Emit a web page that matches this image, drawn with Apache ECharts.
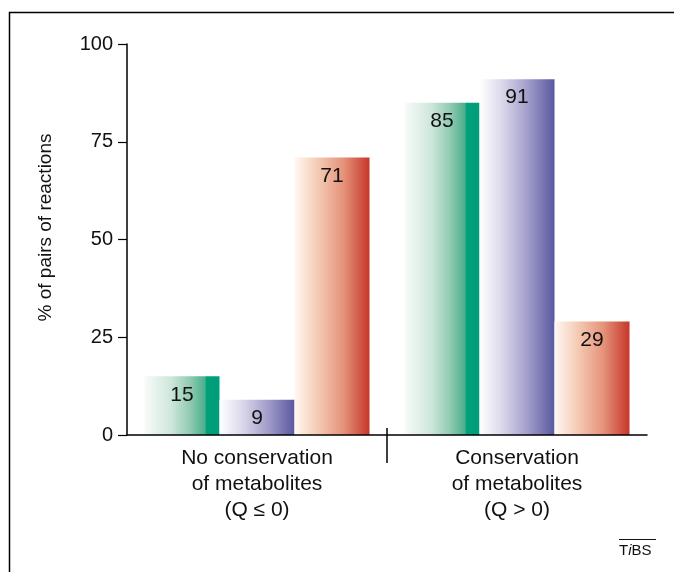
<!DOCTYPE html>
<html>
<head>
<meta charset="utf-8">
<script src="https://cdn.jsdelivr.net/npm/echarts@6/dist/echarts.min.js"></script>
<style>
html,body{margin:0;padding:0;background:#fff;}
#chart{width:674px;height:572px;}
</style>
</head>
<body>
<div id="chart"></div>
<script>
const categories = ['No conservation\nof metabolites\n(Q \u2264 0)', 'Conservation\nof metabolites\n(Q > 0)'];
const greenValues = [15, 85];
const purpleValues = [9, 91];
const redValues = [71, 29];
const yTicks = [0, 25, 50, 75, 100];
const yAxisTitle = '% of pairs of reactions';

const FONT = 'Liberation Sans, Arial, Helvetica, sans-serif';

function grad(stops) {
  return {type: 'linear', x: 0, y: 0, x2: 1, y2: 0,
    colorStops: stops.map(s => ({offset: s[0], color: s[1]}))};
}
const greenGrad = grad([[0, '#f8fbf9'], [0.35, '#cfe7dc'], [0.6, '#93cbb3'], [0.81, '#4aaf8c'], [0.82, '#00a07a'], [1, '#009e78']]);
const purpleGrad = grad([[0, '#ffffff'], [0.3, '#dcd8ea'], [0.65, '#a09cca'], [1, '#5a58a0']]);
const redGrad = grad([[0, '#fff8f3'], [0.3, '#f5ccb6'], [0.65, '#e5937a'], [1, '#c7362a']]);

const labelCfg = {show: true, position: 'insideTop', distance: 8, color: '#111', fontSize: 21, fontFamily: FONT};

function series(name, data, color) {
  return {type: 'bar', name, data, barWidth: 75, barGap: '0%',
    itemStyle: {color}, label: labelCfg, silent: true};
}

const chart = echarts.init(document.getElementById('chart'));
chart.setOption({
  animation: false,
  backgroundColor: '#fff',
  textStyle: {fontFamily: FONT},
  grid: {left: 127, top: 44, width: 520, height: 391, containLabel: false},
  xAxis: [{
    type: 'category', data: categories, z: 10,
    axisLine: {lineStyle: {color: '#000', width: 1.5}},
    axisTick: {show: false},
    axisLabel: {color: '#111', fontSize: 21, lineHeight: 26, margin: 10, fontFamily: FONT}
  }, {
    type: 'value', position: 'bottom', min: 0, max: 2, gridIndex: 0, z: 10,
    axisLine: {show: false}, axisLabel: {show: false}, splitLine: {show: false},
    axisTick: {show: true, customValues: [1], length: 28, lineStyle: {color: '#000', width: 1.5}}
  }, {
    type: 'value', position: 'bottom', min: 0, max: 2, gridIndex: 0, z: 10,
    axisLine: {show: false}, axisLabel: {show: false}, splitLine: {show: false},
    axisTick: {show: true, inside: true, customValues: [1], length: 7, lineStyle: {color: '#000', width: 1.5}}
  }],
  yAxis: {
    type: 'value', min: 0, max: 100, interval: 25, z: 10,
    name: yAxisTitle, nameLocation: 'middle', nameGap: 72, nameRotate: 90,
    nameTextStyle: {color: '#111', fontSize: 19, fontFamily: FONT, padding: [0, 0, 0, 24]},
    axisLine: {show: true, lineStyle: {color: '#000', width: 1.5}},
    axisTick: {show: true, length: 9, lineStyle: {color: '#000', width: 1.2}},
    axisLabel: {color: '#111', fontSize: 20, margin: 14, fontFamily: FONT,
      formatter: v => yTicks.includes(v) ? String(v) : ''},
    splitLine: {show: false}
  },
  series: [
    series('green', greenValues, greenGrad),
    series('purple', purpleValues, purpleGrad),
    series('red', redValues, redGrad)
  ],
  graphic: [
    {type: 'polyline', shape: {points: [[9.5, 572], [9.5, 12.5], [674, 12.5]]},
     style: {stroke: '#000', lineWidth: 1.5, fill: null}, silent: true},
    {type: 'text', left: 619, top: 543,
     style: {text: '{a|T}{b|i}{a|BS}', fill: '#111',
       rich: {a: {fontSize: 15, fontFamily: FONT, fill: '#111'},
              b: {fontSize: 15, fontFamily: FONT, fontStyle: 'italic', fill: '#111'}}}},
    {type: 'line', shape: {x1: 619, y1: 539.5, x2: 656, y2: 539.5},
     style: {stroke: '#111', lineWidth: 1}, silent: true}
  ]
});
</script>
</body>
</html>
